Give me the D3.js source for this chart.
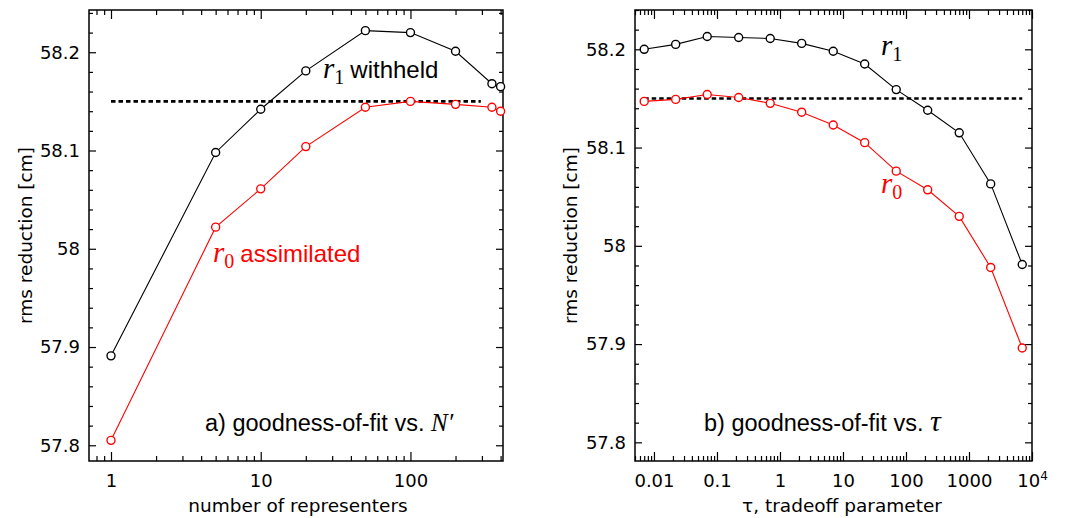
<!DOCTYPE html>
<html>
<head>
<meta charset="utf-8">
<script src="https://cdn.jsdelivr.net/npm/d3@7"></script>
<style>
  body { margin: 0; background: #fff; }
  svg { display: block; }
</style>
</head>
<body>
<div id="chart"></div>
<script>
// panel a: number of representers
const nReps = [1, 5, 10, 20, 50, 100, 200, 350, 400];
const r1Withheld = [57.891, 58.098, 58.142, 58.181, 58.222, 58.220, 58.201, 58.168, 58.165];
const r0Assim = [57.805, 58.022, 58.061, 58.104, 58.144, 58.150, 58.147, 58.144, 58.140];

// panel b: tradeoff parameter tau
const tau = [0.007, 0.0221, 0.07, 0.221, 0.7, 2.21, 7, 22.1, 70, 221, 700, 2210, 7000];
const r1Tau = [58.200, 58.205, 58.213, 58.212, 58.211, 58.206, 58.198, 58.185, 58.159, 58.138, 58.115, 58.063, 57.981];
const r0Tau = [58.147, 58.149, 58.154, 58.151, 58.145, 58.136, 58.123, 58.105, 58.076, 58.057, 58.030, 57.978, 57.896];

const refLevel = 58.15;
const yTicks = [57.8, 57.9, 58, 58.1, 58.2];
const yTickLabels = ["57.8", "57.9", "58", "58.1", "58.2"];
const xTicksA = [1, 10, 100];
const xTicksB = [0.01, 0.1, 1, 10, 100, 1000, 10000];
const xTickLabelsB = ["0.01", "0.1", "1", "10", "100", "1000", "10"];

const width = 1084, height = 518;
const svg = d3.select("#chart").append("svg")
  .attr("width", width)
  .attr("height", height);

const axisFont = "'DejaVu Sans', sans-serif";
const textFont = "'Liberation Sans', Arial, sans-serif";
const mathFont = "'Liberation Serif', 'Times New Roman', serif";

function drawPanel(p) {
  const g = svg.append("g");
  const x = d3.scaleLog().domain(p.xDomain).range([p.left, p.right]);
  const y = d3.scaleLinear().domain(p.yDomain).range([p.bottom, p.top]);

  const majorX = x.ticks().filter(d => Math.abs(Math.log10(d) - Math.round(Math.log10(d))) < 1e-9);
  const minorX = x.ticks().filter(d => majorX.indexOf(d) < 0);
  const minorY = y.ticks(25).filter(d => !yTicks.some(t => Math.abs(t - d) < 1e-9));

  // bottom axis with labels
  const bottom = g.append("g").attr("transform", `translate(0,${p.bottom})`)
    .call(d3.axisBottom(x).tickValues(p.xTicks).tickFormat((d, i) => p.xLabels[i])
      .tickSize(-9).tickPadding(13));
  g.append("g").attr("transform", `translate(0,${p.bottom})`)
    .call(d3.axisBottom(x).tickValues(minorX).tickFormat("").tickSize(-5));
  // top axis
  g.append("g").attr("transform", `translate(0,${p.top})`)
    .call(d3.axisTop(x).tickValues(majorX).tickFormat("").tickSize(-9));
  g.append("g").attr("transform", `translate(0,${p.top})`)
    .call(d3.axisTop(x).tickValues(minorX).tickFormat("").tickSize(-5));
  // left axis with labels
  g.append("g").attr("transform", `translate(${p.left},0)`)
    .call(d3.axisLeft(y).tickValues(yTicks).tickFormat((d, i) => yTickLabels[i])
      .tickSize(-7).tickPadding(9));
  g.append("g").attr("transform", `translate(${p.left},0)`)
    .call(d3.axisLeft(y).tickValues(minorY).tickFormat("").tickSize(-4));
  // right axis
  g.append("g").attr("transform", `translate(${p.right},0)`)
    .call(d3.axisRight(y).tickValues(yTicks).tickFormat("").tickSize(-7));
  g.append("g").attr("transform", `translate(${p.right},0)`)
    .call(d3.axisRight(y).tickValues(minorY).tickFormat("").tickSize(-4));

  g.selectAll(".domain").remove();
  g.selectAll(".tick line").attr("stroke", "#000").attr("stroke-width", 1.2);
  g.selectAll(".tick text").attr("font-family", axisFont).attr("font-size", 18).attr("fill", "#000");

  if (p.supLast) {
    bottom.selectAll(".tick text").filter(d => d === 10000)
      .append("tspan").attr("dy", "-0.55em").attr("font-size", 12).text("4");
  }

  // frame
  g.append("rect")
    .attr("x", p.left).attr("y", p.top)
    .attr("width", p.right - p.left).attr("height", p.bottom - p.top)
    .attr("fill", "none").attr("stroke", "#000").attr("stroke-width", 1.5);

  // reference level
  g.append("line")
    .attr("x1", x(p.refFrom)).attr("x2", x(p.refTo))
    .attr("y1", y(refLevel)).attr("y2", y(refLevel))
    .attr("stroke", "#000").attr("stroke-width", 2.6)
    .attr("stroke-dasharray", "4.5,3");

  const line = d3.line().x(d => x(d[0])).y(d => y(d[1]));
  p.series.forEach(s => {
    const pts = p.xs.map((v, i) => [v, s.values[i]]);
    g.append("path").datum(pts)
      .attr("d", line).attr("fill", "none")
      .attr("stroke", s.color).attr("stroke-width", 1.1);
    g.selectAll(null).data(pts).enter().append("circle")
      .attr("cx", d => x(d[0])).attr("cy", d => y(d[1]))
      .attr("r", 4).attr("fill", "#fff")
      .attr("stroke", s.color).attr("stroke-width", 1.4);
  });

  // axis titles
  g.append("text")
    .attr("transform", `translate(${p.yTitleX},${(p.top + p.bottom) / 2}) rotate(-90)`)
    .attr("text-anchor", "middle")
    .attr("font-family", axisFont).attr("font-size", 18.5)
    .text("rms reduction [cm]");
  g.append("text")
    .attr("x", p.xTitleX).attr("y", 512)
    .attr("text-anchor", "middle")
    .attr("font-family", axisFont).attr("font-size", 18.5)
    .text(p.xTitle);
  return g;
}

function rLabel(g, xPos, yPos, sub, rest, color) {
  const t = g.append("text").attr("x", xPos).attr("y", yPos).attr("fill", color);
  t.append("tspan").attr("font-family", mathFont).attr("font-style", "italic")
    .attr("font-size", 29).text("r");
  t.append("tspan").attr("font-family", mathFont).attr("font-size", 20)
    .attr("dy", 6).text(sub);
  if (rest) {
    t.append("tspan").attr("font-family", textFont).attr("font-size", 24)
      .attr("dy", -6).attr("dx", 6).text(rest);
  }
}

const gA = drawPanel({
  left: 89, right: 503, top: 10, bottom: 461,
  xDomain: [0.713, 415], yDomain: [57.784, 58.243],
  xTicks: xTicksA, xLabels: ["1", "10", "100"],
  xs: nReps,
  series: [{ values: r1Withheld, color: "#000" }, { values: r0Assim, color: "#ff0000" }],
  refFrom: 1, refTo: 295,
  yTitleX: 32, xTitleX: 298, xTitle: "number of representers"
});
rLabel(gA, 323, 78, "1", "withheld", "#000");
rLabel(gA, 213, 262, "0", "assimilated", "#ff0000");
const capA = gA.append("text").attr("x", 205).attr("y", 431).attr("fill", "#000");
capA.append("tspan").attr("font-family", textFont).attr("font-size", 23.5).text("a) goodness-of-fit vs. ");
capA.append("tspan").attr("font-family", mathFont).attr("font-style", "italic").attr("font-size", 25).text("N′");

const gB = drawPanel({
  left: 635, right: 1032, top: 10, bottom: 461,
  xDomain: [0.005, 10000], yDomain: [57.781, 58.240],
  xTicks: xTicksB, xLabels: xTickLabelsB, supLast: true,
  xs: tau,
  series: [{ values: r1Tau, color: "#000" }, { values: r0Tau, color: "#ff0000" }],
  refFrom: 0.007, refTo: 7000,
  yTitleX: 577, xTitleX: 842, xTitle: "τ, tradeoff parameter"
});
rLabel(gB, 881, 55, "1", null, "#000");
rLabel(gB, 881, 193, "0", null, "#ff0000");
const capB = gB.append("text").attr("x", 704).attr("y", 431).attr("fill", "#000");
capB.append("tspan").attr("font-family", textFont).attr("font-size", 23.5).text("b) goodness-of-fit vs. ");
capB.append("tspan").attr("font-family", mathFont).attr("font-style", "italic").attr("font-size", 30).text("τ");
</script>
</body>
</html>
